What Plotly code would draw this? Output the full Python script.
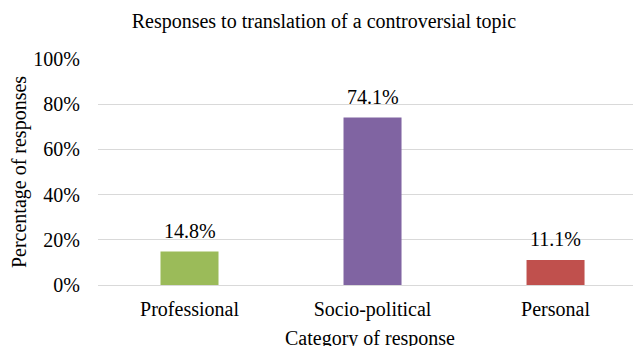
import plotly.graph_objects as go

categories = ["Professional", "Socio-political", "Personal"]
values = [0.148, 0.741, 0.111]
labels = ["14.8%", "74.1%", "11.1%"]
colors = ["#9BBB59", "#8064A2", "#C0504D"]
y_ticks = [0, 0.2, 0.4, 0.6, 0.8, 1.0]
y_ticklabels = ["0%", "20%", "40%", "60%", "80%", "100%"]
x_title = "Category of response"
y_title = "Percentage of responses"

FONT = "Liberation Serif, Times New Roman, serif"
FS = 20

fig = go.Figure()
fig.add_trace(go.Bar(
    x=categories, y=values, marker=dict(color=colors, line=dict(width=0)),
    width=0.317, showlegend=False, hoverinfo="skip",
))
for c, v, t in zip(categories, values, labels):
    fig.add_annotation(x=c, y=v, text=t, showarrow=False, yanchor="bottom",
                       yshift=8, font=dict(family=FONT, size=FS, color="#000000"))

# x-axis title as annotation (below tick labels)
fig.add_annotation(x=0.5, y=-0.238, xref="paper", yref="paper", text=x_title,
                   showarrow=False, xanchor="center", yanchor="middle",
                   font=dict(family=FONT, size=FS, color="#000000"))

# page body has an 8px default margin, so the figure is 8px smaller
fig.update_layout(
    width=633, height=338,
    margin=dict(l=90, r=0, t=51, b=61),
    paper_bgcolor="white", plot_bgcolor="white",
    font=dict(family=FONT, size=FS, color="#000000"),
    title=dict(text="Responses to translation of a controversial topic",
               x=0.499, xref="container", xanchor="center",
               y=0.94, yref="container", yanchor="bottom",
               font=dict(family=FONT, size=FS, color="#000000")),
)
fig.update_xaxes(
    range=[-0.5, 2.467], showgrid=False, showline=False, zeroline=False,
    ticks="", ticklabelstandoff=10, automargin=False,
    tickfont=dict(family=FONT, size=FS, color="#000000"),
    fixedrange=True,
)
fig.update_yaxes(
    range=[0, 1.0], tickvals=y_ticks, ticktext=y_ticklabels,
    showgrid=True, gridcolor="#D9D9D9", gridwidth=1,
    zeroline=True, zerolinecolor="#D9D9D9", zerolinewidth=1,
    showline=False, ticks="", ticklabelstandoff=17, automargin=False,
    tickfont=dict(family=FONT, size=FS, color="#000000"),
    title=dict(text=y_title, standoff=5,
               font=dict(family=FONT, size=FS, color="#000000")),
    fixedrange=True,
)

fig.write_html("out.html")
